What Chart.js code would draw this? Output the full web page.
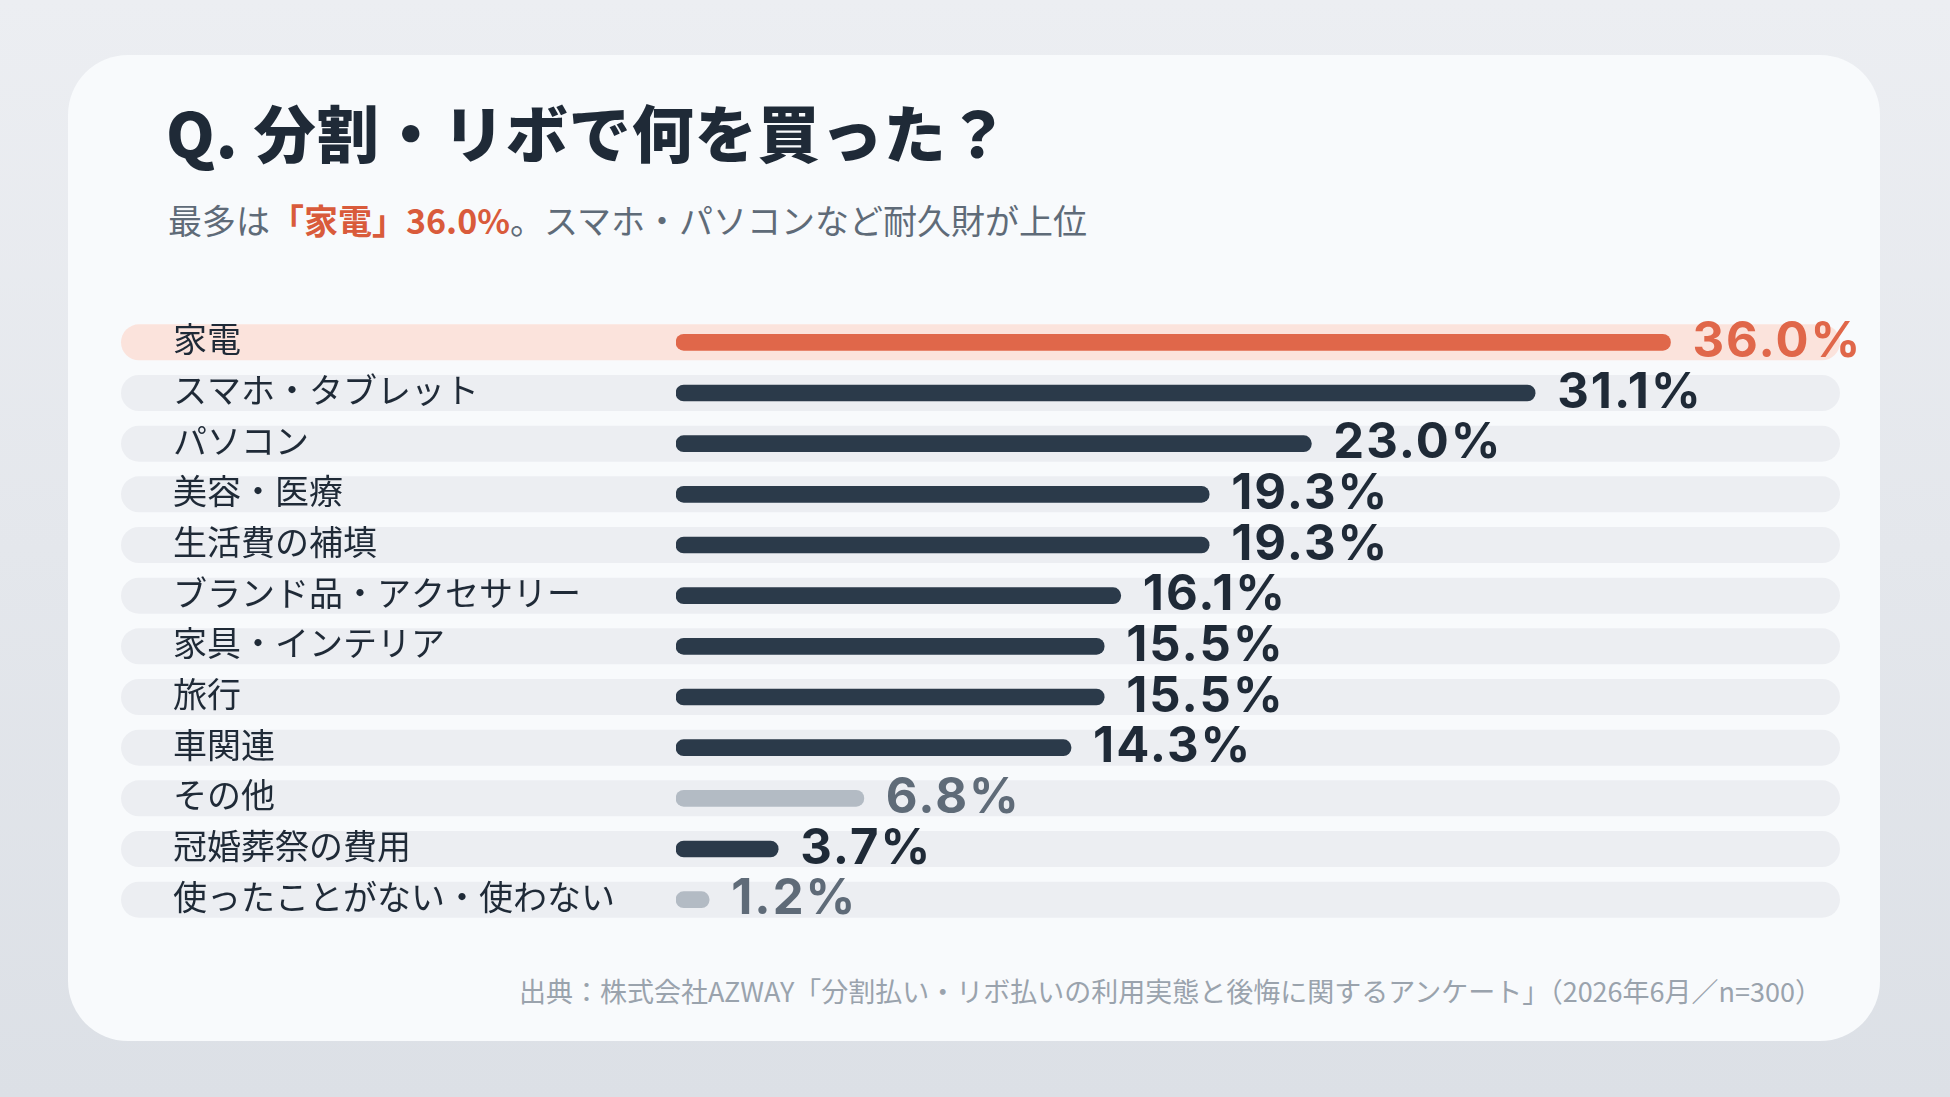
<!DOCTYPE html>
<html><head><meta charset="utf-8">
<script src="https://cdn.jsdelivr.net/npm/chart.js@4/dist/chart.umd.min.js"></script>
<style>
  html,body{margin:0;padding:0;width:1950px;height:1097px;overflow:hidden;
    background:linear-gradient(180deg,#eceef2,#dce0e6);font-family:"Noto Sans CJK JP","Noto Sans",sans-serif;}
  .card{position:absolute;left:68px;top:55px;width:1812px;height:986px;background:#f8fafc;border-radius:60px;}
  h1{position:absolute;left:166px;top:100px;margin:0;font-size:62px;font-weight:900;color:#1f2a37;line-height:1;letter-spacing:1px;}
  .sub{position:absolute;left:168px;top:203px;margin:0;font-size:34px;color:#5f6b78;line-height:1;}
  .sub b{color:#d95b3b;font-weight:700;}
  .src{position:absolute;right:128px;top:977px;font-size:27px;color:#9aa3ad;line-height:1;}
  canvas{position:absolute;left:0;top:0;}
</style></head>
<body>
<div class="card"></div>
<h1>Q. 分割・リボで何を買った？</h1>
<p class="sub">最多は<b>「家電」36.0%</b>。スマホ・パソコンなど耐久財が上位</p>
<div class="src">出典：株式会社AZWAY「分割払い・リボ払いの利用実態と後悔に関するアンケート」（2026年6月／n=300）</div>
<div style="position:absolute;left:0;top:0;width:1950px;height:1097px;"><canvas id="c"></canvas></div>
<script>
  // survey results (%)
  const rows = [
    { label: '家電', value: 36.0, kind: 'top' },
    { label: 'スマホ・タブレット', value: 31.1, kind: 'main' },
    { label: 'パソコン', value: 23.0, kind: 'main' },
    { label: '美容・医療', value: 19.3, kind: 'main' },
    { label: '生活費の補填', value: 19.3, kind: 'main' },
    { label: 'ブランド品・アクセサリー', value: 16.1, kind: 'main' },
    { label: '家具・インテリア', value: 15.5, kind: 'main' },
    { label: '旅行', value: 15.5, kind: 'main' },
    { label: '車関連', value: 14.3, kind: 'main' },
    { label: 'その他', value: 6.8, kind: 'muted' },
    { label: '冠婚葬祭の費用', value: 3.7, kind: 'main' },
    { label: '使ったことがない・使わない', value: 1.2, kind: 'muted' }
  ];
  const BAR = { top: '#e0674a', main: '#2b3a4a', muted: '#b3bbc4' };
  const TXT = { top: '#e0674a', main: '#1f2a37', muted: '#5f6b78' };
  const TRACK = { top: '#fbe3dc', main: '#eceef2', muted: '#eceef2' };

  function pill(ctx, x, y, w, h) {
    const r = h / 2;
    ctx.beginPath();
    ctx.moveTo(x + r, y);
    ctx.lineTo(x + w - r, y);
    ctx.arc(x + w - r, y + r, r, -Math.PI / 2, Math.PI / 2);
    ctx.lineTo(x + r, y + h);
    ctx.arc(x + r, y + r, r, Math.PI / 2, Math.PI * 1.5);
    ctx.closePath();
    ctx.fill();
  }

  // row backgrounds + category labels
  const tracks = {
    id: 'tracks',
    beforeDatasetsDraw(chart) {
      const { ctx, chartArea, scales } = chart;
      const left = chartArea.left - 555, right = chartArea.right + 1;
      ctx.save();
      rows.forEach((r, i) => {
        const y = scales.y.getPixelForValue(i);
        ctx.fillStyle = TRACK[r.kind];
        pill(ctx, left, y - 18, right - left, 36);
        ctx.fillStyle = '#1f2a37';
        ctx.font = '34px "Noto Sans CJK JP", sans-serif';
        ctx.textBaseline = 'middle';
        ctx.textAlign = 'left';
        ctx.fillText(r.label, left + 52, y - 3);
      });
      ctx.restore();
    },
    afterDatasetsDraw(chart) {
      const { ctx } = chart;
      const meta = chart.getDatasetMeta(0);
      ctx.save();
      ctx.font = '700 49px Inter, "Noto Sans", sans-serif';
      ctx.letterSpacing = '2px';
      ctx.textBaseline = 'middle';
      meta.data.forEach((bar, i) => {
        ctx.fillStyle = TXT[rows[i].kind];
        ctx.fillText(rows[i].value.toFixed(1) + '%', bar.x + 22, bar.y);
      });
      ctx.restore();
    }
  };

  new Chart(document.getElementById('c'), {
    type: 'bar',
    data: {
      labels: rows.map(r => r.label),
      datasets: [{
        data: rows.map(r => r.value),
        backgroundColor: rows.map(r => BAR[r.kind]),
        barThickness: 16,
        borderRadius: 8,
        borderSkipped: false
      }]
    },
    options: {
      indexAxis: 'y',
      responsive: true,
      maintainAspectRatio: false,
      animation: false,
      layout: { padding: { left: 676, right: 111, top: 317, bottom: 172 } },
      plugins: { legend: { display: false }, tooltip: { enabled: false } },
      scales: {
        x: { display: false, min: 0, max: 42.1 },
        y: { display: false }
      }
    },
    plugins: [tracks]
  });
</script>
</body></html>
